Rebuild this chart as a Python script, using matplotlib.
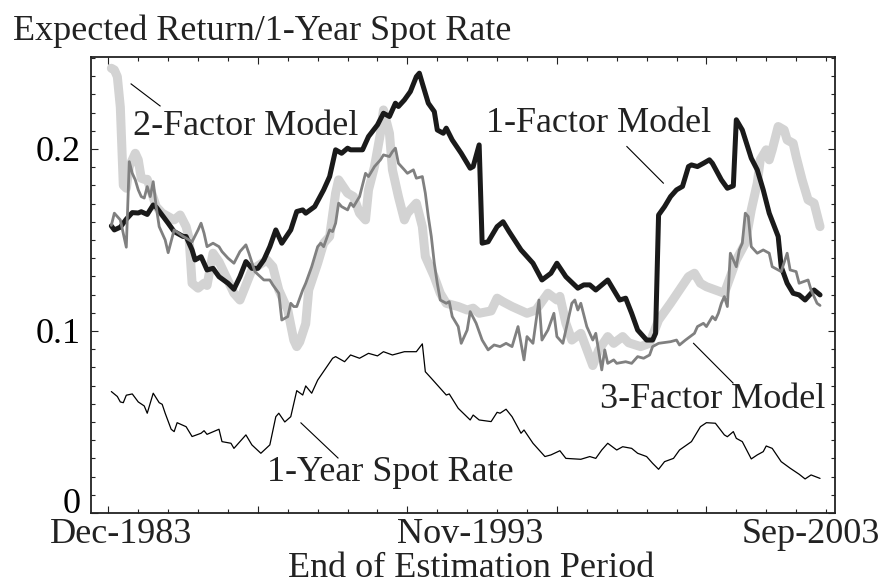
import matplotlib
matplotlib.use("Agg")
import matplotlib.pyplot as plt
from matplotlib.ticker import MultipleLocator

# month index: 1 = Dec-1983 ... 238 = Sep-2003
spot_m = [1, 3, 4, 5, 6, 8, 10, 12, 13, 15, 17, 18, 19, 21, 22, 23, 26, 28, 31, 32,
          33, 37, 38, 41, 42, 46, 48, 51, 54, 56, 57, 59, 61, 63, 65, 66, 68, 70, 75, 76,
          79, 81, 84, 87, 90, 92, 95, 99, 103, 105, 106, 108, 113, 114, 117, 121, 122, 124, 128, 130,
          131, 133, 135, 138, 139, 142, 146, 148, 151, 153, 158, 161, 163, 165, 167, 170, 172, 175, 177, 180,
          182, 184, 186, 189, 191, 195, 198, 200, 203, 206, 207, 209, 210, 212, 215, 217, 219, 220, 222, 225,
          228, 231, 233, 235, 238]
spot = [0.0667, 0.064, 0.061, 0.0606, 0.0647, 0.0654, 0.061, 0.0588, 0.0548, 0.0658,
        0.0606, 0.0597, 0.0548, 0.046, 0.0447, 0.0496, 0.0474, 0.042, 0.0438, 0.0452,
        0.0432, 0.046, 0.0392, 0.0383, 0.0355, 0.0429, 0.0374, 0.0328, 0.0374, 0.0529,
        0.0548, 0.050, 0.0529, 0.0672, 0.0648, 0.0698, 0.0658, 0.073, 0.085, 0.0859,
        0.0831, 0.0868, 0.085, 0.0877, 0.0863, 0.0886, 0.0868, 0.0886, 0.0886, 0.0929,
        0.0776, 0.074, 0.0648, 0.0654, 0.0575, 0.0511, 0.0538, 0.0511, 0.0502, 0.0553,
        0.0548, 0.057, 0.0529, 0.0438, 0.0456, 0.0383, 0.031, 0.0319, 0.0342, 0.030,
        0.0295, 0.031, 0.030, 0.0346, 0.0383, 0.0346, 0.0364, 0.0355, 0.0328, 0.031,
        0.0273, 0.024, 0.0282, 0.030, 0.0346, 0.0392, 0.0474, 0.0496, 0.0493, 0.0429,
        0.0419, 0.0447, 0.041, 0.0392, 0.0297, 0.0319, 0.0337, 0.0368, 0.0355, 0.0282,
        0.0246, 0.0213, 0.0187, 0.0209, 0.019]

f1_m = [1, 2, 4, 6, 8, 10, 11, 13, 15, 16, 20, 22, 25, 26, 28, 29, 31, 32, 33, 35,
        37, 40, 42, 44, 46, 48, 50, 52, 54, 56, 58, 61, 63, 65, 66, 69, 72, 74, 76, 78,
        80, 81, 85, 87, 90, 92, 94, 96, 97, 99, 101, 103, 104, 105, 107, 109, 110, 112, 113, 115,
        118, 121, 122, 124, 125, 127, 130, 132, 134, 138, 139, 142, 145, 148, 150, 153, 157, 159, 161, 163,
        167, 169, 171, 173, 175, 177, 180, 182, 183, 184, 186, 188, 190, 192, 194, 195, 197, 199, 201, 202,
        205, 207, 209, 210, 212, 215, 217, 219, 221, 224, 225, 227, 229, 231, 233, 236, 238]
f1 = [0.1577, 0.1555, 0.157, 0.1614, 0.165, 0.1648, 0.1655, 0.164, 0.1692, 0.168,
      0.1592, 0.1546, 0.1519, 0.1519, 0.1445, 0.139, 0.1408, 0.1372, 0.1335, 0.1344,
      0.1298, 0.1262, 0.1229, 0.1298, 0.1381, 0.1344, 0.1344, 0.139, 0.1463, 0.1555,
      0.1482, 0.1555, 0.1656, 0.1665, 0.1647, 0.1683, 0.1775, 0.1848, 0.1995, 0.1976,
      0.2004, 0.1995, 0.1995, 0.2068, 0.2132, 0.2196, 0.2178, 0.2251, 0.2233, 0.2269,
      0.2315, 0.2397, 0.2416, 0.236, 0.2251, 0.2205, 0.2104, 0.2086, 0.2114, 0.2049,
      0.1976, 0.1894, 0.1903, 0.2022, 0.1482, 0.149, 0.1573, 0.160, 0.1546, 0.1445,
      0.1427, 0.1372, 0.128, 0.1317, 0.1372, 0.1298, 0.1235, 0.1253, 0.1253, 0.1225,
      0.128, 0.1225, 0.117, 0.118, 0.1097, 0.1005, 0.095, 0.095, 0.0987, 0.1637,
      0.1683, 0.1738, 0.1775, 0.1794, 0.1903, 0.1912, 0.1903, 0.1921, 0.194, 0.1921,
      0.183, 0.1784, 0.1797, 0.216, 0.2104, 0.1949, 0.1885, 0.1775, 0.1647, 0.1519,
      0.1353, 0.1262, 0.1207, 0.1198, 0.117, 0.1225, 0.1198]

f2_m = [1, 2, 3, 4, 5, 6, 7, 9, 10, 11, 12, 13, 14, 16, 18, 22, 24, 26, 27, 28,
        30, 32, 33, 35, 37, 42, 44, 48, 53, 55, 57, 60, 62, 63, 64, 66, 67, 70, 72, 74,
        76, 77, 80, 82, 84, 86, 87, 89, 91, 92, 94, 95, 97, 99, 100, 103, 105, 106, 109, 111,
        113, 117, 120, 122, 124, 128, 130, 132, 135, 140, 143, 147, 150, 151, 153, 155, 158, 162, 164, 167,
        169, 172, 174, 178, 181, 184, 188, 191, 194, 196, 198, 200, 203, 206, 208, 210, 213, 215, 217, 218,
        220, 221, 222, 224, 226, 227, 229, 230, 232, 234, 236, 238]
f2 = [0.2443, 0.2434, 0.2397, 0.223, 0.180, 0.1784, 0.1903, 0.1976, 0.194, 0.1839,
      0.1833, 0.1833, 0.1784, 0.1683, 0.1647, 0.161, 0.1637, 0.1573, 0.1509, 0.1262,
      0.1235, 0.1262, 0.125, 0.1427, 0.138, 0.1207, 0.117, 0.1335, 0.139, 0.1353,
      0.1225, 0.1115, 0.095, 0.0914, 0.094, 0.104, 0.1225, 0.1372, 0.1482, 0.1519,
      0.1757, 0.183, 0.1757, 0.1738, 0.1647, 0.161, 0.1775, 0.1903, 0.2086, 0.2214,
      0.2086, 0.1885, 0.1738, 0.161, 0.1647, 0.1702, 0.1573, 0.1409, 0.1298, 0.1207,
      0.1152, 0.1134, 0.1115, 0.1125, 0.1097, 0.111, 0.118, 0.116, 0.1134, 0.1097,
      0.1115, 0.1207, 0.117, 0.119, 0.1042, 0.095, 0.0987, 0.081, 0.0896, 0.0969,
      0.0932, 0.0969, 0.0935, 0.0914, 0.0932, 0.106, 0.1152, 0.1225, 0.1298, 0.1317,
      0.1262, 0.1243, 0.1225, 0.1207, 0.1298, 0.139, 0.1482, 0.1665, 0.1811, 0.194,
      0.1995, 0.194, 0.1995, 0.2123, 0.2104, 0.2049, 0.2031, 0.1958, 0.183, 0.172,
      0.1702, 0.1573]

f3_m = [1, 2, 4, 6, 7, 8, 9, 10, 11, 12, 13, 14, 15, 16, 17, 19, 20, 22, 25, 26,
        28, 30, 31, 32, 33, 35, 37, 38, 40, 42, 44, 46, 47, 49, 52, 54, 55, 57, 58, 60,
        61, 62, 63, 65, 66, 68, 70, 71, 72, 74, 75, 76, 77, 78, 80, 81, 82, 84, 86, 87,
        89, 91, 92, 94, 95, 96, 97, 99, 100, 102, 103, 105, 106, 107, 108, 109, 110, 111, 113, 114,
        115, 117, 118, 120, 121, 123, 125, 127, 129, 131, 133, 135, 137, 138, 139, 140, 142, 144, 145, 147,
        149, 150, 152, 154, 155, 156, 157, 158, 160, 162, 163, 165, 166, 167, 169, 170, 173, 175, 177, 179,
        181, 182, 184, 188, 190, 191, 193, 196, 197, 199, 200, 202, 203, 204, 205, 206, 207, 208, 210, 211,
        212, 213, 214, 215, 217, 219, 221, 222, 225, 227, 228, 230, 231, 234, 235, 237, 238]
f3 = [0.158, 0.1647, 0.161, 0.146, 0.193, 0.1866, 0.183, 0.1775, 0.1738, 0.173,
      0.1793, 0.1738, 0.182, 0.1683, 0.1573, 0.150, 0.143, 0.1555, 0.1519, 0.151,
      0.149, 0.1555, 0.1592, 0.1537, 0.1463, 0.1482, 0.1463, 0.1436, 0.140, 0.1372,
      0.1436, 0.1473, 0.1427, 0.1326, 0.128, 0.128, 0.1253, 0.1207, 0.106, 0.1079,
      0.1152, 0.1134, 0.1134, 0.1225, 0.1262, 0.1353, 0.1463, 0.1482, 0.1463, 0.1555,
      0.1546, 0.1592, 0.1702, 0.1683, 0.1665, 0.1702, 0.1683, 0.1738, 0.1866, 0.1848,
      0.1903, 0.194, 0.1967, 0.1958, 0.1985, 0.2004, 0.1921, 0.1885, 0.1866, 0.1885,
      0.1839, 0.1848, 0.1757, 0.1628, 0.1519, 0.1372, 0.1262, 0.117, 0.1152, 0.1161,
      0.1079, 0.1024, 0.0932, 0.1005, 0.1106, 0.1042, 0.095, 0.0896, 0.0923, 0.0914,
      0.0932, 0.0914, 0.1024, 0.0932, 0.0841, 0.0969, 0.0932, 0.117, 0.095, 0.1005,
      0.1097, 0.0969, 0.0932, 0.1079, 0.1152, 0.117, 0.1115, 0.1152, 0.1024, 0.095,
      0.0987, 0.0786, 0.0896, 0.0822, 0.0841, 0.0822, 0.0831, 0.0822, 0.0859, 0.085,
      0.0868, 0.0914, 0.0932, 0.0941, 0.095, 0.0923, 0.095, 0.0987, 0.1024, 0.1042,
      0.1024, 0.1079, 0.1061, 0.1097, 0.1152, 0.1189, 0.1134, 0.1427, 0.1353, 0.1445,
      0.1482, 0.1647, 0.1628, 0.1463, 0.1427, 0.1445, 0.1427, 0.1353, 0.1326, 0.1427,
      0.1335, 0.1326, 0.1262, 0.128, 0.1225, 0.1152, 0.114]

date_labels = ["Dec-1983", "Nov-1993", "Sep-2003"]
date_pos = [4.2, 121, 235]
y_ticks = [0, 0.1, 0.2]
y_labels = ["0", "0.1", "0.2"]

# callouts: text, text anchor (left, baseline), leader line start/end
callouts = [
    ("2-Factor Model", (8.3, 0.2077), (7.6, 0.2357), (17.3, 0.2236)),
    ("1-Factor Model", (126.3, 0.2093), (173.4, 0.2013), (185.6, 0.1812)),
    ("3-Factor Model", (164.4, 0.0577), (195.7, 0.0932), (208.9, 0.0714)),
    ("1-Year Spot Rate", (53.1, 0.0176), (64.4, 0.0495), (76.8, 0.0302)),
]

plt.rcParams['font.family'] = 'Liberation Serif'
plt.rcParams['font.size'] = 26

fig = plt.figure(figsize=(8.85, 5.85), dpi=100)
ax = fig.add_axes([0.1025, 0.1231, 0.841, 0.7795])

line_kw = dict(solid_joinstyle='round', solid_capstyle='round')
ax.plot(f2_m, f2, color='#d3d3d3', lw=6.5, zorder=1, **line_kw)
ax.plot(f1_m, f1, color='#1a1a1a', lw=3.6, zorder=2, **line_kw)
ax.plot(f3_m, f3, color='#808080', lw=2.0, zorder=3, **line_kw)
ax.plot(spot_m, spot, color='black', lw=0.9, zorder=4, **line_kw)

ax.set_xlim(-5.9, 243)
ax.set_ylim(0, 0.2505)

ax.xaxis.set_major_locator(MultipleLocator(50))
ax.xaxis.set_minor_locator(MultipleLocator(10))
ax.yaxis.set_minor_locator(MultipleLocator(0.01))
ax.set_yticks(y_ticks)
ax.set_yticklabels(y_labels)
ax.tick_params(which='both', direction='in', top=True, right=True,
               labelbottom=False, width=0.8, color='#222222')
ax.tick_params(which='major', length=5)
ax.tick_params(which='minor', length=3.2)
ax.tick_params(axis='y', pad=7)
for lab in ax.get_yticklabels():
    if lab.get_text() == "0":
        lab.set_va('baseline')

for s in ax.spines.values():
    s.set_linewidth(1.3)
    s.set_color('#222222')

for lab, pos in zip(date_labels, date_pos):
    ax.annotate(lab, xy=(pos, 0), xycoords=('data', 'axes fraction'),
                xytext=(0, -21.6), textcoords='offset points',
                ha='center', va='baseline', annotation_clip=False, color='#222222')

for txt, tpos, p0, p1 in callouts:
    ax.text(tpos[0], tpos[1], txt, ha='left', va='baseline', color='#222222')
    ax.plot([p0[0], p1[0]], [p0[1], p1[1]], color='black', lw=0.8)

fig.text(13 / 885, 1 - 40 / 585, "Expected Return/1-Year Spot Rate",
         ha='left', va='baseline', color='#222222')
fig.text(471 / 885, 1 - 577 / 585, "End of Estimation Period",
         ha='center', va='baseline', color='#222222')

fig.savefig("out.png", dpi=100)
